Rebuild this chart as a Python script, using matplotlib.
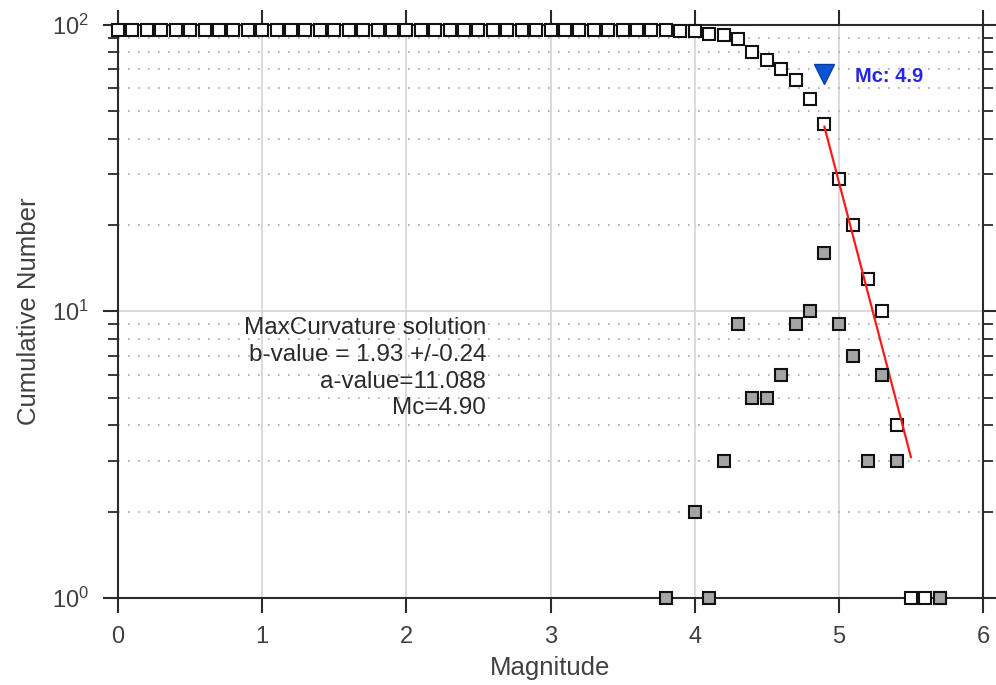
import numpy as np
import matplotlib
matplotlib.use('Agg')
import matplotlib.pyplot as plt
from matplotlib.ticker import LogLocator, NullFormatter, FixedLocator

plt.rcParams['font.family'] = ['Liberation Sans', 'DejaVu Sans']

# ── Data ──
# cumulative number of events (open squares), 0.1 magnitude bins from 0.0 to 5.7
cum_mag = np.round(np.arange(0.0, 5.75, 0.1), 1)
cum_num = [96] * 39 + [95, 95, 93, 92, 89, 80, 75, 70, 64, 55,
                       45, 29, 20, 13, 10, 4, 1, 1, 1]

# non-cumulative number per bin (grey squares)
bin_mag = [3.8, 4.0, 4.1, 4.2, 4.3, 4.4, 4.5, 4.6, 4.7, 4.8, 4.9,
           5.0, 5.1, 5.2, 5.3, 5.4, 5.7]
bin_num = [1, 2, 1, 3, 9, 5, 5, 6, 9, 10, 16, 9, 7, 3, 6, 3, 1]

# maximum-curvature fit line (end points) and Mc marker
fit_mag = [4.9, 5.5]
fit_num = [44, 3.1]
mc_mag = 4.9
mc_num = 67

info_lines = ['MaxCurvature solution', 'b-value = 1.93 +/-0.24',
              'a-value=11.088', 'Mc=4.90']

# ── Plot ──
fig = plt.figure(figsize=(9.96, 6.85), dpi=100)
ax = fig.add_axes([118/996, 1 - 598/685, (983 - 118)/996, (598 - 24.5)/685])

ax.set_yscale('log')
ax.set_xlim(0, 6)
ax.set_ylim(1, 100)

# grid: solid major, dotted minor (y only)
ax.xaxis.set_major_locator(FixedLocator([0, 1, 2, 3, 4, 5, 6]))
ax.yaxis.set_major_locator(LogLocator(base=10))
ax.yaxis.set_minor_locator(LogLocator(base=10, subs=np.arange(2, 10)))
ax.yaxis.set_minor_formatter(NullFormatter())
ax.grid(True, which='major', axis='both', color='#d4d4d4', lw=1.2, ls='-', zorder=0)
ax.grid(True, which='minor', axis='y', color='#a8a8a8', lw=1.2, ls=(0, (1, 5)), zorder=0)
ax.set_axisbelow(True)

ax.plot(cum_mag, cum_num, 's', ms=8.5, mfc='white', mec='#111111', mew=1.5,
        clip_on=False, zorder=3)
ax.plot(fit_mag, fit_num, '-', color='#ff1a1a', lw=1.6, zorder=4)
ax.plot(bin_mag, bin_num, 's', ms=8.5, mfc='#a5a5a5', mec='#111111', mew=1.5,
        clip_on=False, zorder=5)
ax.plot([mc_mag], [mc_num], 'v', ms=14, color='#0a55d6', mec='#0a3fa0', zorder=6)
ax.text(5.11, 66, 'Mc: 4.9', color='#2424f0', fontsize=14.5, fontweight='bold',
        va='center', ha='left')

ys = [8.75, 7.03, 5.66, 4.59]
for s, y in zip(info_lines, ys):
    ax.text(2.553, y, s, ha='right', va='center', fontsize=17.5, color='#2a2a2a')

for sp in ax.spines.values():
    sp.set_color('#2a2a2a')
    sp.set_linewidth(1.5)

ax.tick_params(which='both', direction='out', top=True, right=True,
               colors='#2a2a2a', labelcolor='#404040', labelsize=17)
ax.tick_params(which='major', length=11, width=1.5)
ax.tick_params(which='minor', length=7, width=1.3)
ax.tick_params(axis='x', pad=9)
ax.tick_params(axis='y', pad=10)

ax.set_xlabel('Magnitude', fontsize=18.5, color='#404040', labelpad=6)
ax.set_ylabel('Cumulative Number', fontsize=18.5, color='#404040', labelpad=8)

fig.savefig('out.png', dpi=100)
